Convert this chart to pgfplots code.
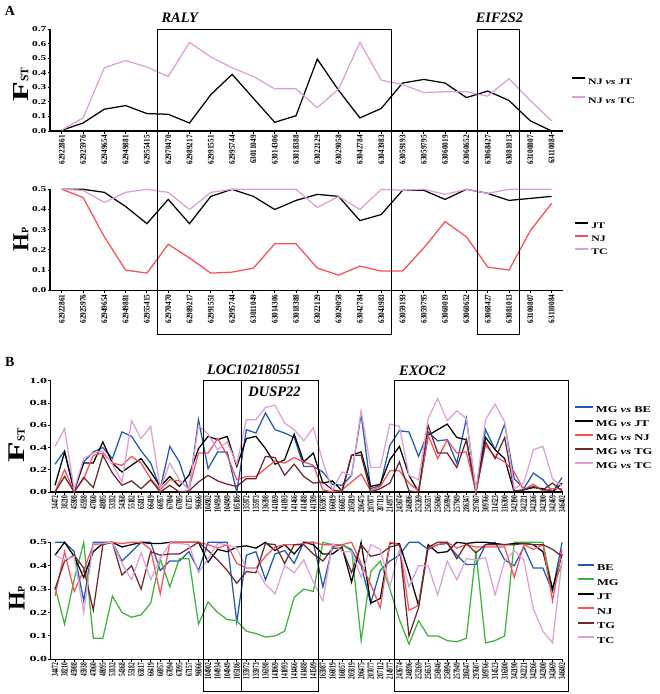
\documentclass[border=0pt]{standalone}
\usepackage{pgfplots}
\pgfplotsset{compat=1.18}
\usepackage{pgfplotstable}
\usepackage{fontspec}
\setmainfont{Liberation Serif}
\newfontfamily\legfont{Liberation Serif}[FakeStretch=1.4]
\newfontfamily\ytickAfont{Liberation Serif}[FakeStretch=1.5]
\newfontfamily\ytickBfont{Liberation Serif}[FakeStretch=1.8]
\newfontfamily\xtickAfont{Liberation Serif}[FakeStretch=0.85]
\newfontfamily\xtickBfont{Liberation Serif}[FakeStretch=0.58]

\definecolor{cPink}{RGB}{220,160,215}
\definecolor{cRed}{RGB}{250,80,85}
\definecolor{cBlue}{RGB}{30,90,180}
\definecolor{cMaroon}{RGB}{110,40,45}
\definecolor{cGreen}{RGB}{60,180,60}

\pgfplotstableread{
x NJJT NJTC
0 0.005 0.005
1 0.055 0.09
2 0.15 0.435
3 0.175 0.485
4 0.12 0.44
5 0.115 0.375
6 0.055 0.61
7 0.25 0.51
8 0.39 0.435
9 0.225 0.375
10 0.06 0.29
11 0.105 0.29
12 0.495 0.16
13 0.28 0.29
14 0.09 0.61
15 0.155 0.35
16 0.33 0.32
17 0.355 0.265
18 0.33 0.27
19 0.23 0.27
20 0.275 0.24
21 0.21 0.36
22 0.07 0.21
23 0.0 0.07
}\tabAF

\pgfplotstableread{
x JT NJ TC
0 0.5 0.5 0.5
1 0.5 0.46 0.495
2 0.485 0.265 0.435
3 0.415 0.1 0.485
4 0.33 0.085 0.5
5 0.45 0.228 0.485
6 0.33 0.16 0.40
7 0.465 0.085 0.485
8 0.5 0.09 0.5
9 0.465 0.11 0.5
10 0.40 0.23 0.5
11 0.445 0.23 0.5
12 0.475 0.11 0.41
13 0.465 0.075 0.465
14 0.345 0.12 0.40
15 0.375 0.095 0.5
16 0.495 0.095 0.495
17 0.495 0.21 0.5
18 0.45 0.34 0.475
19 0.5 0.265 0.5
20 0.48 0.115 0.48
21 0.445 0.1 0.5
22 0.455 0.295 0.5
23 0.465 0.43 0.5
}\tabAH

\pgfplotstableread{
x BE JT NJ TG TC
0 0.25 0.06 0.00 0.00 0.41
1 0.37 0.36 0.20 0.14 0.57
2 0.01 0.01 0.00 0.00 0.02
3 0.27 0.26 0.12 0.13 0.30
4 0.36 0.26 0.33 0.04 0.35
5 0.40 0.45 0.35 0.33 0.37
6 0.30 0.26 0.26 0.17 0.25
7 0.54 0.18 0.24 0.06 0.09
8 0.50 0.24 0.32 0.10 0.64
9 0.37 0.30 0.26 0.03 0.48
10 0.26 0.18 0.12 0.11 0.59
11 0.03 0.05 0.02 0.00 0.03
12 0.41 0.14 0.11 0.06 0.26
13 0.27 0.05 0.10 0.00 0.11
14 0.01 0.15 0.03 0.01 0.02
15 0.65 0.39 0.35 0.09 0.60
16 0.21 0.50 0.35 0.15 0.52
17 0.36 0.47 0.48 0.10 0.38
18 0.36 0.50 0.33 0.07 0.45
19 0.00 0.23 0.11 0.05 0.25
20 0.56 0.48 0.14 0.12 0.65
21 0.53 0.50 0.14 0.12 0.65
22 0.71 0.39 0.21 0.32 0.76
23 0.56 0.25 0.28 0.31 0.78
24 0.53 0.29 0.26 0.15 0.62
25 0.49 0.52 0.31 0.25 0.56
26 0.23 0.27 0.27 0.14 0.46
27 0.23 0.35 0.24 0.08 0.58
28 0.18 0.08 0.02 0.09 0.27
29 0.07 0.10 0.00 0.02 0.02
30 0.06 0.01 0.02 0.00 0.18
31 0.15 0.33 0.09 0.33 0.15
32 0.70 0.36 0.16 0.33 0.73
33 0.03 0.05 0.01 0.00 0.22
34 0.06 0.07 0.05 0.03 0.22
35 0.42 0.29 0.19 0.08 0.61
36 0.55 0.41 0.19 0.27 0.59
37 0.54 0.15 0.08 0.01 0.15
38 0.32 0.00 0.01 0.00 0.11
39 0.54 0.51 0.51 0.60 0.66
40 0.46 0.56 0.30 0.35 0.84
41 0.47 0.61 0.47 0.35 0.64
42 0.26 0.49 0.35 0.22 0.73
43 0.66 0.47 0.36 0.47 0.66
44 0.00 0.00 0.00 0.00 0.02
45 0.56 0.49 0.42 0.45 0.65
46 0.38 0.38 0.32 0.30 0.79
47 0.61 0.30 0.27 0.49 0.63
48 0.12 0.00 0.18 0.01 0.03
49 0.03 0.02 0.02 0.02 0.08
50 0.17 0.04 0.07 0.05 0.38
51 0.11 0.03 0.01 0.02 0.41
52 0.00 0.00 0.03 0.08 0.12
53 0.13 0.08 0.03 0.01 0.05
}\tabBF

\pgfplotstableread{
x BE MG JT NJ TG TC
0 0.50 0.31 0.445 0.27 0.30 0.445
1 0.50 0.15 0.50 0.46 0.42 0.425
2 0.46 0.34 0.44 0.29 0.445 0.44
3 0.25 0.50 0.35 0.38 0.39 0.20
4 0.50 0.09 0.46 0.49 0.21 0.495
5 0.50 0.09 0.495 0.495 0.49 0.495
6 0.50 0.27 0.50 0.50 0.50 0.50
7 0.42 0.20 0.48 0.495 0.36 0.41
8 0.46 0.18 0.49 0.50 0.40 0.34
9 0.50 0.19 0.50 0.50 0.30 0.455
10 0.50 0.24 0.495 0.47 0.46 0.34
11 0.38 0.43 0.495 0.28 0.445 0.43
12 0.42 0.31 0.50 0.50 0.45 0.495
13 0.42 0.43 0.50 0.50 0.45 0.495
14 0.46 0.43 0.50 0.50 0.475 0.49
15 0.38 0.15 0.50 0.50 0.50 0.37
16 0.50 0.245 0.415 0.49 0.465 0.43
17 0.50 0.20 0.47 0.475 0.425 0.495
18 0.50 0.17 0.46 0.49 0.38 0.49
19 0.16 0.165 0.48 0.41 0.325 0.475
20 0.445 0.12 0.485 0.39 0.375 0.39
21 0.46 0.11 0.475 0.39 0.37 0.39
22 0.34 0.095 0.50 0.44 0.495 0.32
23 0.45 0.10 0.465 0.48 0.49 0.28
24 0.465 0.12 0.49 0.49 0.41 0.40
25 0.41 0.265 0.45 0.49 0.49 0.37
26 0.50 0.30 0.50 0.495 0.49 0.425
27 0.50 0.29 0.49 0.50 0.45 0.33
28 0.31 0.50 0.45 0.49 0.42 0.25
29 0.48 0.49 0.45 0.49 0.475 0.495
30 0.49 0.49 0.48 0.49 0.475 0.46
31 0.465 0.47 0.33 0.50 0.37 0.46
32 0.40 0.08 0.50 0.41 0.49 0.35
33 0.24 0.375 0.24 0.32 0.44 0.49
34 0.38 0.42 0.26 0.22 0.45 0.47
35 0.42 0.30 0.495 0.50 0.48 0.31
36 0.445 0.17 0.495 0.49 0.49 0.47
37 0.50 0.065 0.37 0.21 0.10 0.31
38 0.50 0.165 0.23 0.23 0.22 0.40
39 0.47 0.10 0.49 0.475 0.48 0.40
40 0.49 0.10 0.455 0.49 0.50 0.275
41 0.495 0.08 0.46 0.50 0.50 0.42
42 0.445 0.075 0.50 0.475 0.43 0.34
43 0.405 0.09 0.495 0.49 0.495 0.43
44 0.405 0.46 0.50 0.48 0.455 0.425
45 0.49 0.07 0.50 0.48 0.49 0.435
46 0.50 0.08 0.495 0.48 0.49 0.275
47 0.425 0.10 0.49 0.48 0.49 0.42
48 0.40 0.50 0.495 0.35 0.49 0.465
49 0.48 0.50 0.495 0.49 0.495 0.425
50 0.39 0.50 0.49 0.47 0.49 0.215
51 0.39 0.50 0.46 0.49 0.49 0.12
52 0.29 0.30 0.30 0.25 0.47 0.07
53 0.50 0.41 0.45 0.47 0.44 0.425
}\tabBH

\pgfplotsset{
  myax/.style={
    scale only axis, axis x line*=bottom, axis y line*=left,
    axis line style={line width=1.1bp, black},
    tick style={line width=0.9bp, black}, tick align=outside,
    major tick length=2.5bp, enlargelimits=false, clip=false,
    /pgf/number format/assume math mode=true,
    /pgf/number format/fixed, /pgf/number format/fixed zerofill,
    /pgf/number format/precision=1,
    every axis plot/.append style={line width=1.25bp, mark=none},
    legend cell align=left,
    legend style={draw=none, fill=none, inner sep=0pt, anchor=west,
      nodes={text height=6bp, text depth=0bp, inner ysep=0pt}},
  },
  axA/.style={myax, xmin=-0.55, xmax=23.55, xtick={0,...,23},
    xticklabels={62922861,62925976,62949654,62949881,62955415,62970470,62989217,62991551,62995744,63011049,63014306,63018388,63022129,63029058,63042784,63043983,63059193,63059795,63060019,63060652,63068427,63081013,63100807,63110084},
    xticklabel style={rotate=90, anchor=east, inner sep=1.5bp, font=\xtickAfont\bfseries\fontsize{8.6}{9}\selectfont},
    yticklabel style={inner xsep=1bp, font=\ytickAfont\bfseries\fontsize{7.6}{8}\selectfont},
    legend style={font=\legfont\bfseries\fontsize{8.5}{9}\selectfont},
    legend image code/.code={\draw[##1, line width=2bp] (0bp,3bp) -- (13bp,3bp);},
  },
  axB/.style={myax, xmin=-0.45, xmax=53.1, xtick={0,...,53},
    xticklabels={34472,38210,45908,45938,47060,48095,53332,54368,55182,65817,66419,66957,67094,67095,67157,96066,104902,104934,104949,105186,135972,135973,136398,141069,141093,141466,141488,141509,165987,166019,166057,205819,206475,207077,207112,214977,243674,246896,252269,256537,256946,256994,257949,286347,297607,309766,314523,316300,342190,342221,342266,342300,342469,346402},
    xticklabel style={rotate=90, anchor=east, inner sep=1bp, font=\xtickBfont\bfseries\fontsize{9.5}{10}\selectfont},
    yticklabel style={inner xsep=1bp, font=\ytickBfont\bfseries\fontsize{7.8}{8}\selectfont},
    legend style={font=\legfont\bfseries\fontsize{9}{10}\selectfont},
  },
  legB1/.style={legend image code/.code={\draw[##1, line width=2bp] (0bp,3bp) -- (18bp,3bp);}},
  legB2/.style={legend image code/.code={\draw[##1, line width=2bp] (0bp,3bp) -- (16bp,3bp);}},
  ylab/.style={ylabel style={at={(axis description cs:#1)}, anchor=center, font=\bfseries}},
}

\begin{document}
\begin{tikzpicture}[x=1bp,y=1bp]
\useasboundingbox (0,0) rectangle (660,-694);

% ---------- Panel A, F_ST ----------
\begin{axis}[axA, at={(50bp,-131bp)}, anchor=south west,
  width=513.3bp, height=101.7bp, ymin=0, ymax=0.7, ytick={0,0.1,...,0.7},
  ylabel={\fontsize{23}{23}\selectfont\scalebox{1.4}[1]{F}{\fontsize{11.5}{12}\selectfont ST}},
  ylab={-0.0565,0.46},
  legend style={at={(1.015,0.403)}, row sep=12bp}]
\addplot[black] table[x=x,y=NJJT]{\tabAF};
\addlegendentry{NJ \textit{vs} JT}
\addplot[cPink] table[x=x,y=NJTC]{\tabAF};
\addlegendentry{NJ \textit{vs} TC}
\coordinate (raly1) at (axis cs:4.5,0.7);
\coordinate (eif1) at (axis cs:19.5,0.7);
\end{axis}

% ---------- Panel A, H_P ----------
\begin{axis}[axA, at={(50bp,-290.3bp)}, anchor=south west,
  width=513.3bp, height=101bp, ymin=0, ymax=0.5, ytick={0,0.1,...,0.5},
  ylabel={\fontsize{23}{23}\selectfont H{\fontsize{10}{11}\selectfont P}},
  ylab={-0.0565,0.5},
  legend style={at={(1.021,0.515)}, row sep=6bp}]
\addplot[black] table[x=x,y=JT]{\tabAH};
\addlegendentry{JT}
\addplot[cRed] table[x=x,y=NJ]{\tabAH};
\addlegendentry{NJ}
\addplot[cPink] table[x=x,y=TC]{\tabAH};
\addlegendentry{TC}
\coordinate (raly2) at (axis cs:15.5,0);
\coordinate (eif2) at (axis cs:21.5,0);
\end{axis}

% ---------- Panel B, F_ST ----------
\begin{axis}[axB, legB1, at={(50.7bp,-492bp)}, anchor=south west,
  width=512.3bp, height=111.3bp, ymin=0, ymax=1, ytick={0,0.2,...,1.0},
  ylabel={\fontsize{24}{24}\selectfont\scalebox{1.4}[1]{F}{\fontsize{11}{12}\selectfont ST}},
  ylab={-0.066,0.42},
  legend style={at={(1.021,0.491)}, row sep=7bp}]
\addplot[cBlue] table[x=x,y=BE]{\tabBF};
\addlegendentry{MG \textit{vs} BE}
\addplot[black] table[x=x,y=JT]{\tabBF};
\addlegendentry{MG \textit{vs} JT}
\addplot[cRed] table[x=x,y=NJ]{\tabBF};
\addlegendentry{MG \textit{vs} NJ}
\addplot[cMaroon] table[x=x,y=TG]{\tabBF};
\addlegendentry{MG \textit{vs} TG}
\addplot[cPink] table[x=x,y=TC]{\tabBF};
\addlegendentry{MG \textit{vs} TC}
\coordinate (loc1) at (axis cs:15.5,1);
\coordinate (dusp1) at (axis cs:19.5,1);
\coordinate (exo1) at (axis cs:35.5,1);
\end{axis}

% ---------- Panel B, H_P ----------
\begin{axis}[axB, legB2, at={(50.7bp,-659.3bp)}, anchor=south west,
  width=512.3bp, height=117bp, ymin=0, ymax=0.5, ytick={0,0.1,...,0.5},
  ylabel={\fontsize{24}{24}\selectfont H{\fontsize{10}{11}\selectfont P}},
  ylab={-0.066,0.52},
  legend style={at={(1.027,0.475)}, row sep=7.5bp}]
\addplot[cBlue] table[x=x,y=BE]{\tabBH};
\addlegendentry{BE}
\addplot[cGreen] table[x=x,y=MG]{\tabBH};
\addlegendentry{MG}
\addplot[black] table[x=x,y=JT]{\tabBH};
\addlegendentry{JT}
\addplot[cRed] table[x=x,y=NJ]{\tabBH};
\addlegendentry{NJ}
\addplot[cMaroon] table[x=x,y=TG]{\tabBH};
\addlegendentry{TG}
\addplot[cPink] table[x=x,y=TC]{\tabBH};
\addlegendentry{TC}
\coordinate (loc2) at (axis cs:27.5,0);
\coordinate (dusp2) at (axis cs:19.5,0);
\coordinate (exo2) at (axis cs:53.7,0);
\end{axis}

% ---------- gene boxes ----------
\begin{scope}[line width=1.1bp]
\draw (raly1) rectangle ([yshift=-44bp]raly2);
\draw (eif1) rectangle ([yshift=-44bp]eif2);
\draw (loc1) rectangle ([yshift=-32bp]loc2);
\draw (dusp1) -- ([yshift=-32bp]dusp2);
\draw (exo1) rectangle ([yshift=-32bp]exo2);
\end{scope}

% ---------- titles ----------
\begin{scope}[every node/.style={font=\bfseries\itshape\fontsize{14.5}{15}\selectfont, inner sep=0pt}]
\node at (179.7,-18) {RALY};
\node at (499.5,-18) {EIF2S2};
\node at (254,-370) {LOC102180551};
\node at (274.5,-391.7) {DUSP22};
\node at (422.5,-370.7) {EXOC2};
\end{scope}
\node[font=\bfseries\fontsize{14}{15}\selectfont, inner sep=0pt] at (10,-11) {A};
\node[font=\bfseries\fontsize{14}{15}\selectfont, inner sep=0pt] at (9.7,-361.5) {B};
\end{tikzpicture}
\end{document}
